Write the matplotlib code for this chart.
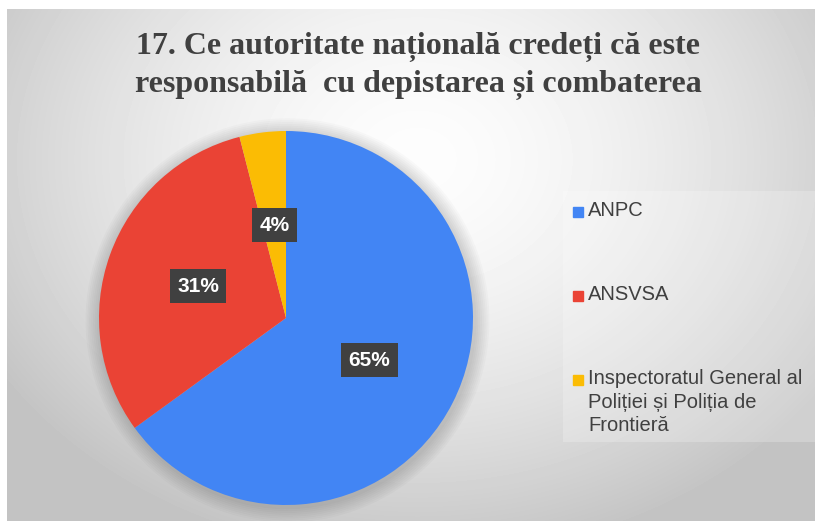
import numpy as np
import matplotlib
matplotlib.use("Agg")
import matplotlib.pyplot as plt
from matplotlib.patches import Rectangle, Circle

# data
labels = ["ANPC", "ANSVSA", "Inspectoratul General al\nPoliției și Poliția de\nFrontieră"]
values = [65, 31, 4]
colors = ["#4285F4", "#EA4335", "#FBBC04"]
title = "17. Ce autoritate națională credeți că este\nresponsabilă  cu depistarea și combaterea"

W, H = 815, 521
fig = plt.figure(figsize=(W / 100, H / 100), dpi=100)
fig.patch.set_facecolor("white")

# background: soft radial gradient inside the chart area
bg = fig.add_axes([7 / W, 0, 1 - 7 / W, 1 - 9 / H])
bg.set_axis_off()
yy, xx = np.mgrid[0:H - 9, 0:W - 7]
d = np.sqrt(((xx - 410) / 520.0) ** 2 + ((yy - 150) / 420.0) ** 2)
shade = np.clip(253 - 62 * d ** 1.6, 195, 253) / 255.0
bg.imshow(shade, cmap="gray", vmin=0, vmax=1, aspect="auto", interpolation="bilinear")
# lighter legend panel
bg.add_patch(Rectangle((555, 181), 260, 251, color="white", alpha=0.22, lw=0))

fig.text(418 / W, 1 - 66 / H, title, ha="center", va="center",
         fontsize=23, fontweight="bold", family="Liberation Serif",
         color="#404040", linespacing=1.35)

# pie
cx, cy, r = 286, 318, 187
ax = fig.add_axes([(cx - r) / W, (H - cy - r) / H, 2 * r / W, 2 * r / H])
ax.set_axis_off()
# soft shadow under the pie
for k in range(8):
    ax.add_patch(Circle((0.008, -0.012), 1.0 + 0.01 * (k + 1), color="black",
                        alpha=0.02, lw=0, zorder=0, clip_on=False))
wedges, _, autotexts = ax.pie(values, colors=colors, startangle=90, counterclock=False,
                              autopct="%d%%", pctdistance=0.5, radius=1.0,
                              wedgeprops=dict(linewidth=0))
for t in autotexts:
    t.set_color("white")
    t.set_fontsize(15)
    t.set_fontweight("bold")
    t.set_family("Liberation Sans")
    t.set_bbox(dict(boxstyle="square,pad=0.36", fc="#404040", ec="none"))
ax.set_xlim(-1, 1)
ax.set_ylim(-1, 1)
ax.set_aspect("equal")

# legend drawn by hand so the marker sits on the first line of the label
for i, (lab, col) in enumerate(zip(labels, colors)):
    y = 212 + i * 84
    fig.patches.append(Rectangle((573 / W, 1 - (y + 5) / H), 10 / W, 10 / H,
                                 color=col, transform=fig.transFigure, figure=fig))
    fig.text(588 / W, 1 - (y - 11) / H, lab, ha="left", va="top", fontsize=14.5,
             family="Liberation Sans", color="#404040", linespacing=1.3)

fig.savefig("out.png", dpi=100)
